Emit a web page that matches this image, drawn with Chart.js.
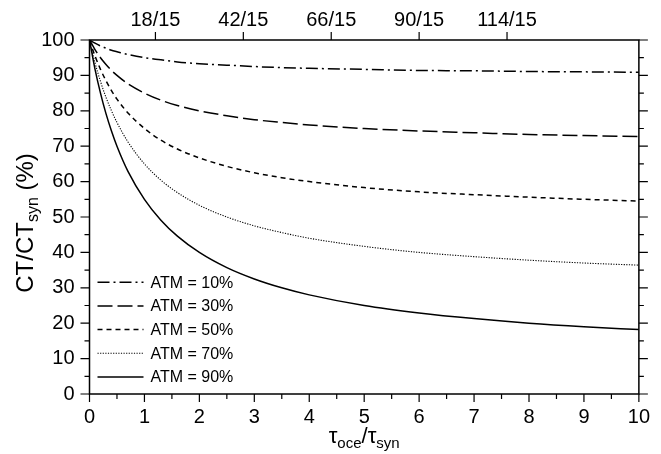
<!DOCTYPE html>
<html>
<head>
<meta charset="utf-8">
<script src="https://cdn.jsdelivr.net/npm/chart.js@4.4.1/dist/chart.umd.min.js"></script>
<style>
  html, body { margin: 0; padding: 0; background: #fff; }
  #wrap { width: 661px; height: 454px; position: relative; }
</style>
</head>
<body>
<div id="wrap"><canvas id="c" width="661" height="454"></canvas></div>
<script>
// ---- data ----
const xValues = [0, 0.1, 0.2, 0.3, 0.4, 0.5, 0.7, 1, 1.3, 1.6, 2, 2.5, 3, 3.5, 4, 5, 6, 7, 8, 9, 10];
const atm10 = [100, 99.1, 98.3, 97.7, 97.1, 96.7, 95.9, 95.0, 94.4, 93.8, 93.3, 92.9, 92.5, 92.2, 92.0, 91.7, 91.4, 91.3, 91.1, 91.0, 90.9];
const atm30 = [100, 97.3, 95.0, 93.1, 91.4, 90.0, 87.6, 85.0, 83.0, 81.5, 80.0, 78.6, 77.5, 76.7, 76.0, 75.0, 74.3, 73.8, 73.3, 73.0, 72.7];
const atm50 = [100, 95.5, 91.7, 88.5, 85.7, 83.3, 79.4, 75.0, 71.7, 69.2, 66.7, 64.3, 62.5, 61.1, 60.0, 58.3, 57.1, 56.3, 55.6, 55.0, 54.5];
const atm70 = [100, 93.6, 88.3, 83.8, 80.0, 76.7, 71.2, 65.0, 60.4, 56.9, 53.3, 50.0, 47.5, 45.6, 44.0, 41.7, 40.0, 38.8, 37.8, 37.0, 36.4];
const atm90 = [100, 91.8, 85.0, 79.2, 74.3, 70.0, 62.9, 55.0, 49.1, 44.6, 40.0, 35.7, 32.5, 30.0, 28.0, 25.0, 22.9, 21.3, 20.0, 19.0, 18.2];
const seriesLabels = ['ATM = 10%', 'ATM = 30%', 'ATM = 50%', 'ATM = 70%', 'ATM = 90%'];
const topTickValues = [1.2, 2.8, 4.4, 6.0, 7.6];
const topTickLabels = ['18/15', '42/15', '66/15', '90/15', '114/15'];

const FONT = "'Liberation Sans', Arial, Helvetica, sans-serif";
const seriesData = [atm10, atm30, atm50, atm70, atm90];
const dashes = [[12, 4, 2, 4], [15, 5], [5, 4], [1.2, 1.4], []];
const widths = [1.5, 1.5, 1.5, 1.1, 1.5];

const datasets = seriesData.map((arr, i) => ({
  label: seriesLabels[i],
  data: xValues.map((x, j) => ({ x: x, y: arr[j] })),
  borderColor: '#000',
  borderWidth: widths[i],
  borderDash: dashes[i],
  pointRadius: 0,
  fill: false,
  cubicInterpolationMode: 'monotone'
}));

const framePlugin = {
  id: 'frame',
  afterDraw(chart) {
    const ctx = chart.ctx;
    const a = chart.chartArea;
    const xs = chart.scales.x, ys = chart.scales.y, xt = chart.scales.xTop;
    ctx.save();
    ctx.strokeStyle = '#000';
    ctx.lineWidth = 1.5;
    ctx.setLineDash([]);
    ctx.strokeRect(a.left, a.top, a.right - a.left, a.bottom - a.top);
    ctx.lineWidth = 1.2;
    ctx.beginPath();
    for (let v = 0; v <= 10.001; v += 0.5) {
      const px = xs.getPixelForValue(v);
      const len = Math.abs(v - Math.round(v)) < 1e-6 ? 8 : 5;
      ctx.moveTo(px, a.bottom); ctx.lineTo(px, a.bottom + len);
    }
    topTickValues.forEach(v => {
      const px = xt.getPixelForValue(v);
      ctx.moveTo(px, a.top); ctx.lineTo(px, a.top - 8);
    });
    for (let v = 0; v <= 100.001; v += 5) {
      const py = ys.getPixelForValue(v);
      const len = (v % 10 === 0) ? 9 : 5;
      ctx.moveTo(a.left, py); ctx.lineTo(a.left - len, py);
      ctx.moveTo(a.right, py); ctx.lineTo(a.right + len, py);
    }
    ctx.stroke();

    // legend inside the plot
    ctx.font = '16px ' + FONT;
    ctx.fillStyle = '#000';
    ctx.textBaseline = 'middle';
    ctx.textAlign = 'left';
    chart.data.datasets.forEach((ds, i) => {
      const y = a.bottom - 17 - (4 - i) * 23.7;
      ctx.lineWidth = ds.borderWidth;
      ctx.setLineDash(ds.borderDash);
      ctx.beginPath();
      ctx.moveTo(a.left + 8, y); ctx.lineTo(a.left + 54, y);
      ctx.stroke();
      ctx.setLineDash([]);
      ctx.fillText(ds.label, a.left + 61, y + 1);
    });

    // x title: τoce/τsyn
    const big = '22px ' + FONT, small = '15px ' + FONT;
    const parts = [['τ', big, 0], ['oce', small, 5], ['/', big, 0], ['τ', big, 0], ['syn', small, 5]];
    let total = 0;
    parts.forEach(p => { ctx.font = p[1]; total += ctx.measureText(p[0]).width; });
    let cx = (a.left + a.right) / 2 - total / 2;
    ctx.textBaseline = 'alphabetic';
    parts.forEach(p => {
      ctx.font = p[1];
      ctx.fillText(p[0], cx, 443 + p[2]);
      cx += ctx.measureText(p[0]).width;
    });

    // y title: CT/CTsyn (%)
    const yparts = [['CT/CT', '24px ' + FONT, 0], ['syn', '16px ' + FONT, 5], [' (%)', '24px ' + FONT, 0]];
    let ytotal = 0;
    yparts.forEach(p => { ctx.font = p[1]; ytotal += ctx.measureText(p[0]).width; });
    ctx.translate(33, 223);
    ctx.rotate(-Math.PI / 2);
    let yx = -ytotal / 2;
    yparts.forEach(p => {
      ctx.font = p[1];
      ctx.fillText(p[0], yx, p[2]);
      yx += ctx.measureText(p[0]).width;
    });
    ctx.restore();
  }
};

new Chart(document.getElementById('c'), {
  type: 'line',
  data: { datasets: datasets },
  options: {
    responsive: false,
    animation: false,
    events: [],
    layout: { padding: { left: 0, right: 11, top: 0, bottom: 0 } },
    plugins: { legend: { display: false }, tooltip: { enabled: false } },
    scales: {
      x: {
        type: 'linear', position: 'bottom', min: 0, max: 10,
        ticks: { stepSize: 1, color: '#000', font: { family: FONT, size: 20 }, padding: 11, maxRotation: 0 },
        grid: { display: false, drawTicks: false }, border: { display: false },
        afterFit: s => { s.height = 60; }
      },
      xTop: {
        type: 'linear', position: 'top', min: 0, max: 10,
        afterBuildTicks: s => { s.ticks = topTickValues.map(v => ({ value: v })); },
        ticks: { autoSkip: false, color: '#000', font: { family: FONT, size: 20 }, padding: 8, maxRotation: 0,
          callback: (v, i) => topTickLabels[i] },
        grid: { display: false, drawTicks: false }, border: { display: false },
        afterFit: s => { s.height = 40; }
      },
      y: {
        type: 'linear', position: 'left', min: 0, max: 100,
        ticks: { stepSize: 10, color: '#000', font: { family: FONT, size: 20 }, padding: 15 },
        grid: { display: false, drawTicks: false }, border: { display: false },
        afterFit: s => { s.width = 89.5; }
      }
    }
  },
  plugins: [framePlugin]
});
</script>
</body>
</html>
